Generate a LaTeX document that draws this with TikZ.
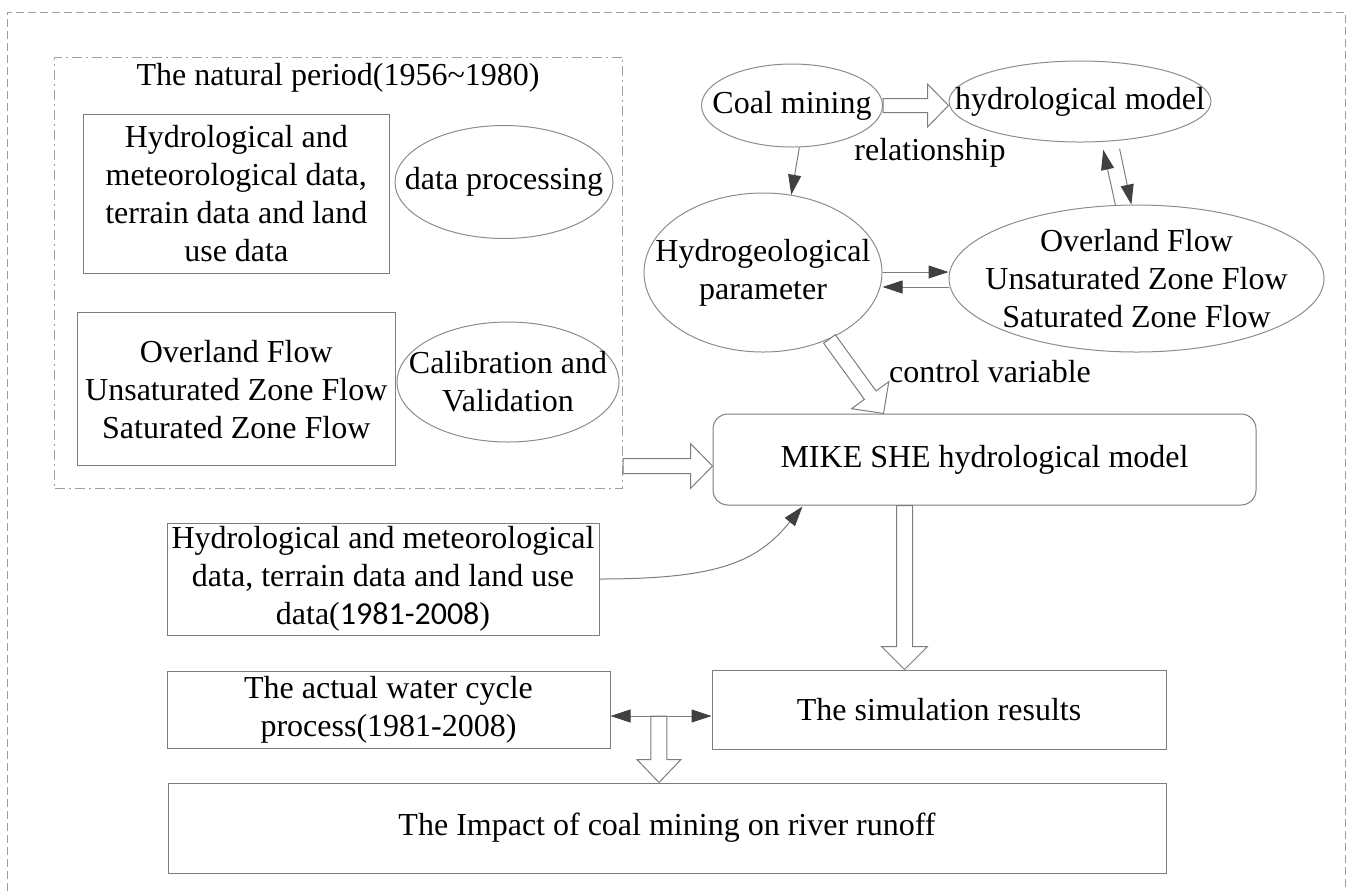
\documentclass[tikz,border=0pt]{standalone}
\usepackage{fontspec}
\setmainfont{Liberation Serif}
\newfontfamily\calibrifont{Carlito}
\usepackage{tikz}
\usetikzlibrary{calc,shapes.geometric,arrows.meta}

\definecolor{boxgray}{RGB}{125,125,125}
\definecolor{ovalgray}{RGB}{140,140,140}
\definecolor{framegray}{RGB}{160,160,160}
\definecolor{headgray}{RGB}{64,64,64}

% hollow block arrow: from, to, shaft half width, head half width, head length
\newcommand{\hollowarrow}[5]{%
    \draw[hollow] let \p1=(#1), \p2=(#2),
        \n1={atan2(\y2-\y1,\x2-\x1)}, \n2={veclen(\x2-\x1,\y2-\y1)} in
        [shift={(\p1)}, rotate=\n1]
        (0pt,-#3) -- ({\n2-#5},-#3) -- ({\n2-#5},-#4) -- ({\n2*1pt},0pt)
        -- ({\n2-#5},#4) -- ({\n2-#5},#3) -- (0pt,#3) -- cycle;}

\begin{document}
\begin{tikzpicture}[x=0.5pt, y=-0.5pt, line width=0.5pt,
    font=\fontsize{16}{19}\selectfont,
    box/.style={draw=boxgray, rectangle, align=center, inner sep=1pt},
    oval/.style={draw=ovalgray, ellipse, inner sep=0pt},
    ovaltext/.style={label={[align=center]center:{#1}}},
    hollow/.style={draw=boxgray, fill=white, line join=miter},
    arrowline/.style={draw=boxgray, -{Triangle[length=10pt,width=6.5pt,color=headgray]}},
    twoway/.style={draw=boxgray, {Triangle[length=10pt,width=6.5pt,color=headgray]}-{Triangle[length=10pt,width=6.5pt,color=headgray]}}]

        \useasboundingbox (0,0) rectangle (1349,891);

        % Outer frame
        \draw[framegray, dash pattern=on 4pt off 2pt] (7,891) -- (7,12) -- (1345,12) -- (1345,891);

        % The natural period
        \node[draw=framegray, dash pattern=on 5pt off 2pt on 1pt off 2pt,
            minimum width=284pt, minimum height=215.5pt] (natural) at (338.5,272.5) {};
        \node (title) at (338,78) {The natural period(1956\textasciitilde 1980)};
        \node[box, minimum width=153pt, minimum height=79.5pt] (natdata) at (236.3,193.5)
            {Hydrological and\\meteorological data,\\terrain data and land\\use data};
        \node[oval, minimum width=109pt, minimum height=56.5pt, ovaltext={data processing}] (process) at (504,182) {};
        \node[box, minimum width=158.75pt, minimum height=76.5pt] (natflow) at (236.3,389.3)
            {Overland Flow\\Unsaturated Zone Flow\\Saturated Zone Flow};
        \node[oval, minimum width=111pt, minimum height=60pt, ovaltext={Calibration and\\Validation}] (calib) at (508,382) {};

        % Coal mining and parameters
        \node[oval, minimum width=90.5pt, minimum height=41.5pt, ovaltext={Coal mining}] (coal) at (792,105.5) {};
        \node[oval, minimum width=131pt, minimum height=40.5pt, ovaltext={hydrological model}] (hydromodel) at (1080,101.5) {};
        \node (relation) at (930,153) {relationship};
        \node[oval, minimum width=119pt, minimum height=79.5pt, ovaltext={Hydrogeological\\parameter}] (hydrogeo) at (763,272.5) {};
        \node[oval, minimum width=187.5pt, minimum height=73.5pt,
            ovaltext={Overland Flow\\Unsaturated Zone Flow\\Saturated Zone Flow}] (flows) at (1136.5,278.5) {};
        \node (control) at (990,372) {control variable};

        % Model and results
        \node[box, rounded corners=7.5pt, minimum width=271.5pt, minimum height=45.5pt] (mike) at (984.5,459.5)
            {MIKE SHE hydrological model};
        \node[box, minimum width=216pt, minimum height=56pt] (newdata) at (383,579)
            {Hydrological and meteorological\\data, terrain data and land use\\data({\calibrifont 1981-2008})};
        \node[box, minimum width=221.5pt, minimum height=38.5pt] (actual) at (388.5,709.5)
            {The actual water cycle\\process(1981-2008)};
        \node[box, minimum width=227pt, minimum height=39.5pt] (sim) at (939,709.5) {The simulation results};
        \node[box, minimum width=499pt, minimum height=45pt] (impact) at (667,828)
            {The Impact of coal mining on river runoff};

        % Helper points
        \coordinate (cvtip) at ($(mike.north west)+(171,0)$);
        \coordinate (nmtip) at ($(mike.west)+(0,6.5)$);
        \coordinate (simtop) at ($(sim.north west)+(193,0)$);
        \coordinate (cmpl) at ($(actual.east)+(0,6.5)$);
        \coordinate (cmpr) at (cmpl -| sim.west);
        \coordinate (cmp) at ($(cmpl)!0.48!(cmpr)$);
        \coordinate (curvetip) at ($(mike.south west)+(90,1)$);

        % Hollow arrows
        \hollowarrow{coal.east}{coal.east -| hydromodel.west}{3.5pt}{10.75pt}{10.5pt}
        \hollowarrow{hydrogeo.-45}{cvtip}{3.6pt}{11.5pt}{11.3pt}
        \hollowarrow{natural.east |- nmtip}{nmtip}{3.75pt}{11.25pt}{11pt}
        \hollowarrow{simtop |- mike.south}{simtop}{4pt}{11.5pt}{11.5pt}
        \hollowarrow{cmp}{cmp |- impact.north}{4pt}{11pt}{11.5pt}

        % Line arrows
        \draw[arrowline] (coal.-80) -- (hydrogeo.70);
        \draw[arrowline] (hydrogeo.east |- 0,272) -- (flows.west |- 0,272);
        \draw[arrowline] (flows.west |- 0,287) -- (hydrogeo.east |- 0,287);
        \draw[arrowline, shorten >=4pt] (flows.106) -- (hydromodel.-62);
        \draw[arrowline, shorten <=4pt] (hydromodel.-46) -- (flows.94);
        \draw[arrowline] (newdata.east) .. controls +(120,0) and +(-45,55) .. (curvetip);
        \draw[twoway] (cmpl) -- (cmpr);

    \end{tikzpicture}
\end{document}
